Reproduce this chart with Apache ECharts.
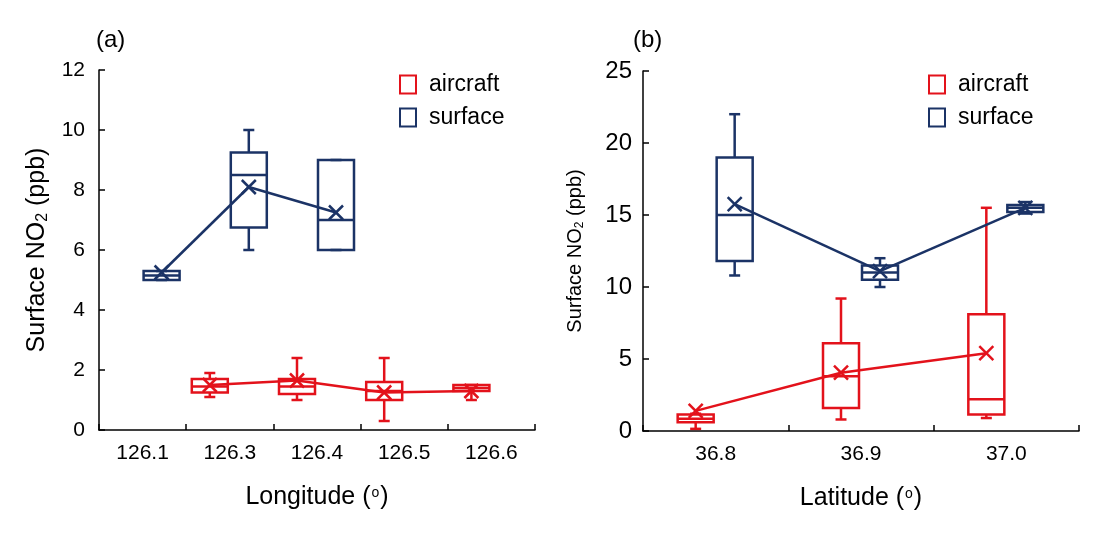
<!DOCTYPE html>
<html><head><meta charset="utf-8">
<script src="https://cdn.jsdelivr.net/npm/echarts@6/dist/echarts.min.js"></script>
<style>html,body{margin:0;padding:0;background:#fff}#c{width:1098px;height:535px}</style>
</head><body><div id="c"></div>
<script>
// ---- data ----
const lonCategories = ['126.1', '126.3', '126.4', '126.5', '126.6'];
const latCategories = ['36.8', '36.9', '37.0'];
// each row: [min, q1, median, q3, max, mean]
const lonAircraft = [null, [1.1, 1.25, 1.45, 1.7, 1.9, 1.5], [1.0, 1.2, 1.45, 1.7, 2.4, 1.65], [0.3, 1.0, 1.3, 1.6, 2.4, 1.25], [1.0, 1.3, 1.4, 1.5, 1.5, 1.3]];
const lonSurface = [[5.0, 5.0, 5.15, 5.3, 5.3, 5.25], [6.0, 6.75, 8.5, 9.25, 10.0, 8.1], [6.0, 6.0, 7.0, 9.0, 9.0, 7.25], null, null];
const latAircraft = [[0.15, 0.6, 0.85, 1.15, 1.2, 1.4], [0.8, 1.6, 3.8, 6.1, 9.2, 4.05], [0.9, 1.15, 2.2, 8.1, 15.5, 5.4]];
const latSurface = [[10.8, 11.8, 15.0, 19.0, 22.0, 15.75], [10.0, 10.5, 11.0, 11.5, 12.0, 11.1], [15.1, 15.2, 15.5, 15.7, 15.9, 15.5]];
const lonYTicks = [0, 12, 2];   // min, max, interval
const latYTicks = [0, 25, 5];
const seriesNames = ['aircraft', 'surface'];

// ---- style ----
const RED = '#e3121b', NAVY = '#1b3366';
const BOX_W = 36, CAP_W = 11, MARK = 14, LW = 2.5;
const FONT = "'Liberation Sans', Arial, sans-serif";

function boxSeries(name, color, axisIdx, rows, offset) {
  const items = [];
  rows.forEach((r, i) => { if (r) items.push([i].concat(r)); });
  return {
    type: 'custom', name: name, xAxisIndex: axisIdx, yAxisIndex: axisIdx,
    data: items, encode: { x: 0, y: [1, 2, 3, 4, 5, 6] },
    itemStyle: { color: color }, clip: false,
    renderItem: function (params, api) {
      const k = params.dataIndex;
      const cat = api.value(0);
      const py = v => api.coord([cat, v])[1];
      const x = api.coord([cat, 0])[0] + offset;
      const yMin = py(api.value(1)), yQ1 = py(api.value(2)), yMed = py(api.value(3)),
            yQ3 = py(api.value(4)), yMax = py(api.value(5)), yMean = py(api.value(6));
      const hw = BOX_W / 2, cw = CAP_W / 2, m = MARK / 2;
      const st = { stroke: color, lineWidth: LW, fill: 'none' };
      const L = (x1, y1, x2, y2) => ({ type: 'line', shape: { x1, y1, x2, y2 }, style: st });
      const children = [
        L(x, yQ3, x, yMax), L(x - cw, yMax, x + cw, yMax),
        L(x, yQ1, x, yMin), L(x - cw, yMin, x + cw, yMin),
        { type: 'rect', shape: { x: x - hw, y: yQ3, width: BOX_W, height: yQ1 - yQ3 }, style: st },
        L(x - hw, yMed, x + hw, yMed),
        L(x - m, yMean - m, x + m, yMean + m), L(x - m, yMean + m, x + m, yMean - m)
      ];
      if (k + 1 < items.length) {
        const nx = items[k + 1];
        const p2 = api.coord([nx[0], nx[6]]);
        children.push(L(x, yMean, p2[0] + offset, p2[1]));
      }
      return { type: 'group', children: children };
    }
  };
}

const axisLine = { show: true, lineStyle: { color: '#000', width: 1.5 } };
function xAxisCfg(idx, cats, nameRich) {
  return {
    gridIndex: idx, type: 'category', data: cats, boundaryGap: true,
    axisLine: axisLine,
    axisTick: { show: true, inside: true, length: 6, interval: 0, lineStyle: { color: '#000', width: 1.5 } },
    axisLabel: { fontSize: 21, fontFamily: FONT, color: '#000', margin: 13, interval: 0 },
    splitLine: { show: false },
    name: nameRich, nameLocation: 'middle', nameGap: 55,
    nameTextStyle: { color: '#000', rich: {
      t: { fontSize: 25, fontFamily: FONT, color: '#000' },
      o: { fontSize: 14, fontFamily: FONT, color: '#000', padding: [0, 1, 8, 1] }
    } }
  };
}
function yAxisCfg(idx, ticks, labelSize, nameSize, nameGap, margin) {
  return {
    gridIndex: idx, type: 'value', min: ticks[0], max: ticks[1], interval: ticks[2],
    axisLine: axisLine,
    axisTick: { show: true, inside: true, length: 6, lineStyle: { color: '#000', width: 1.5 } },
    axisLabel: { fontSize: labelSize, fontFamily: FONT, color: '#000', margin: margin },
    splitLine: { show: false },
    name: '{t|Surface NO}{s|2}{t| (ppb)}', nameLocation: 'middle', nameGap: nameGap, nameRotate: 90,
    nameTextStyle: { color: '#000', rich: {
      t: { fontSize: nameSize, fontFamily: FONT, color: '#000' },
      s: { fontSize: Math.round(nameSize * 0.62), fontFamily: FONT, color: '#000', padding: [Math.round(nameSize * 0.45), 0, 0, 0] }
    } }
  };
}
function legendCfg(left) {
  return {
    left: left, top: 73, orient: 'vertical', itemGap: 10, itemWidth: 16, itemHeight: 18,
    padding: 0, selectedMode: false,
    textStyle: { fontSize: 23, fontFamily: FONT, color: '#000', padding: [0, 0, 0, 8] },
    data: [
      { name: seriesNames[0], icon: 'rect', itemStyle: { color: '#fff', borderColor: RED, borderWidth: 2 } },
      { name: seriesNames[1], icon: 'rect', itemStyle: { color: '#fff', borderColor: NAVY, borderWidth: 2 } }
    ]
  };
}

const option = {
  backgroundColor: '#fff',
  animation: false,
  title: [
    { text: '(a)', left: 91, top: 23, textStyle: { fontSize: 24, fontWeight: 'normal', color: '#000', fontFamily: FONT } },
    { text: '(b)', left: 628, top: 23, textStyle: { fontSize: 24, fontWeight: 'normal', color: '#000', fontFamily: FONT } }
  ],
  legend: [legendCfg(399), legendCfg(928)],
  grid: [
    { left: 99, top: 70, width: 436, height: 360 },
    { left: 643, top: 71, width: 436, height: 360 }
  ],
  xAxis: [
    xAxisCfg(0, lonCategories, '{t|Longitude (}{o|o}{t|)}'),
    xAxisCfg(1, latCategories, '{t|Latitude (}{o|o}{t|)}')
  ],
  yAxis: [
    yAxisCfg(0, lonYTicks, 21, 25, 48, 14),
    yAxisCfg(1, latYTicks, 24, 20, 57, 11)
  ],
  series: [
    boxSeries(seriesNames[0], RED, 0, lonAircraft, -20),
    boxSeries(seriesNames[1], NAVY, 0, lonSurface, 19),
    boxSeries(seriesNames[0], RED, 1, latAircraft, -20),
    boxSeries(seriesNames[1], NAVY, 1, latSurface, 19)
  ]
};
const chart = echarts.init(document.getElementById('c'));
chart.setOption(option);
</script></body></html>
